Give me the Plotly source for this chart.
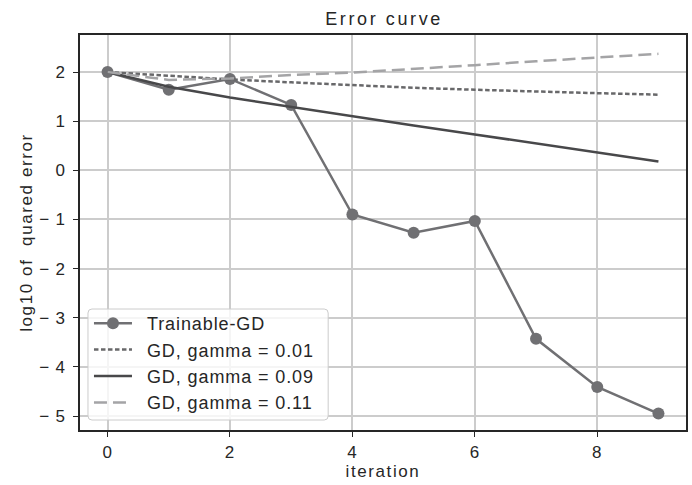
import plotly.graph_objects as go

# Iterations and log10 squared error for each method
iterations = [0, 1, 2, 3, 4, 5, 6, 7, 8, 9]
trainable_gd = [2.0, 1.64, 1.86, 1.33, -0.90, -1.27, -1.03, -3.43, -4.41, -4.95]
gd_gamma_001 = [2.0, 1.92, 1.85, 1.79, 1.73, 1.68, 1.64, 1.60, 1.57, 1.54]
gd_gamma_009 = [2.0, 1.70, 1.48, 1.29, 1.09, 0.91, 0.73, 0.55, 0.37, 0.18]
gd_gamma_011 = [2.0, 1.84, 1.87, 1.94, 1.99, 2.06, 2.14, 2.22, 2.30, 2.37]

x_ticks = [0, 2, 4, 6, 8]
y_ticks = [-5, -4, -3, -2, -1, 0, 1, 2]
y_tick_text = ["\u2212 5", "\u2212 4", "\u2212 3", "\u2212 2", "\u2212 1", "0", "1", "2"]

FONT = "Liberation Sans, Arial, Helvetica, sans-serif"
INK = "#262626"

W, H = 692, 485
M_L, M_R, M_T, M_B = 80, 4, 35, 55
PLOT_W, PLOT_H = W - M_L - M_R, H - M_T - M_B

fig = go.Figure()
fig.add_trace(go.Scatter(
    x=iterations, y=trainable_gd, name="Trainable-GD", mode="lines+markers",
    line=dict(color="#707073", width=2.5), marker=dict(size=12, color="#707073"),
))
fig.add_trace(go.Scatter(
    x=iterations, y=gd_gamma_001, name="GD, gamma = 0.01", mode="lines",
    line=dict(color="#68686a", width=2.5, dash="4.5px,2.5px"),
))
fig.add_trace(go.Scatter(
    x=iterations, y=gd_gamma_009, name="GD, gamma = 0.09", mode="lines",
    line=dict(color="#48484a", width=2.5),
))
fig.add_trace(go.Scatter(
    x=iterations, y=gd_gamma_011, name="GD, gamma = 0.11", mode="lines",
    line=dict(color="#a4a4a6", width=2.5, dash="13px,6px"),
))

axis_common = dict(
    showgrid=True, gridcolor="#cccccc", gridwidth=1.5,
    showline=True, linecolor=INK, linewidth=1.5, mirror=True,
    ticks="outside", ticklen=5, tickwidth=1.3, tickcolor=INK,
    tickfont=dict(family=FONT, size=17, color=INK),
    zeroline=False,
)


def px_to_paper(px, py):
    """Convert a pixel position on the page to paper coordinates."""
    return (px - M_L) / PLOT_W, (H - M_B - py) / PLOT_H


def rounded_box(x0, y0, x1, y1, r):
    """SVG path (paper coords) for a rounded rectangle given in page pixels."""
    ax0, ay1 = px_to_paper(x0, y0)
    ax1, ay0 = px_to_paper(x1, y1)
    rx, ry = r / PLOT_W, r / PLOT_H
    return (
        f"M{ax0 + rx},{ay1} L{ax1 - rx},{ay1} Q{ax1},{ay1} {ax1},{ay1 - ry} "
        f"L{ax1},{ay0 + ry} Q{ax1},{ay0} {ax1 - rx},{ay0} "
        f"L{ax0 + rx},{ay0} Q{ax0},{ay0} {ax0},{ay0 + ry} "
        f"L{ax0},{ay1 - ry} Q{ax0},{ay1} {ax0 + rx},{ay1} Z"
    )


# Legend frame: translucent white rounded box behind the legend entries
fig.add_shape(
    type="path", xref="paper", yref="paper", layer="above",
    path=rounded_box(88, 309, 329, 420, 4),
    fillcolor="rgba(255,255,255,0.8)", line=dict(color="#cccccc", width=1),
)

lx, ly = px_to_paper(89, 421)

fig.update_layout(
    width=W, height=H,
    margin=dict(l=M_L, r=M_R, t=M_T, b=M_B),
    paper_bgcolor="white", plot_bgcolor="white",
    font=dict(family=FONT, color=INK),
    title=dict(text="Error curve", x=0.555, xanchor="center", y=0.962, yanchor="middle",
               font=dict(family=FONT, size=18, color=INK)),
    xaxis=dict(axis_common, range=[-0.45, 9.45], tickvals=x_ticks, ticklabelstandoff=1,
               title=dict(text="iteration", font=dict(family=FONT, size=17, color=INK), standoff=3)),
    yaxis=dict(axis_common, range=[-5.285, 2.754], tickvals=y_ticks, ticktext=y_tick_text,
               ticklabelstandoff=4,
               title=dict(text="log10 of\u00a0 quared error", font=dict(family=FONT, size=17, color=INK),
                          standoff=5)),
    legend=dict(
        x=lx, y=ly, xanchor="left", yanchor="bottom",
        bgcolor="rgba(0,0,0,0)", borderwidth=0,
        font=dict(family=FONT, size=18, color=INK),
        tracegroupgap=0, itemwidth=38,
    ),
    showlegend=True,
)

# Slightly open letter spacing for the chart's text; legend labels sit a bit
# further from their line samples and are not clipped to the measured width
spacing_css = (
    ".gtitle{letter-spacing:2.6px}"
    ".legendtext{letter-spacing:0.9px;transform:translateX(10px)}"
    ".xtitle,.ytitle{letter-spacing:1.6px}"
    ".xtick text,.ytick text{letter-spacing:0.8px}"
)
post_js = (
    "var st=document.createElement('style');"
    f"st.textContent='{spacing_css}';"
    "document.head.appendChild(st);"
    "document.querySelectorAll('.legend [clip-path]').forEach(function(el){"
    "el.removeAttribute('clip-path');});"
)

fig.write_html("out.html", post_script=post_js)
